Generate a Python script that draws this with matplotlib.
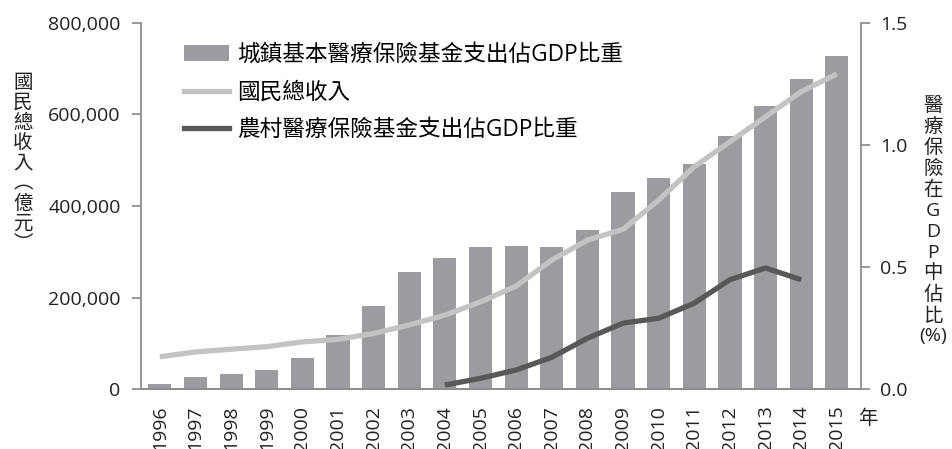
import numpy as np
import matplotlib
matplotlib.use("Agg")
import matplotlib.pyplot as plt
from matplotlib.ticker import FuncFormatter
from matplotlib.patches import Patch
from matplotlib.lines import Line2D

plt.rcParams['font.family'] = ['Open Sans', 'Noto Sans CJK TC', 'DejaVu Sans']

# 數據
years = [str(y) for y in range(1996, 2016)]
urban_share = [0.021, 0.051, 0.063, 0.078, 0.126, 0.222, 0.342, 0.481, 0.538, 0.583,
               0.586, 0.580, 0.651, 0.808, 0.864, 0.922, 1.036, 1.159, 1.270, 1.365]
gni = [70600, 81000, 87000, 92500, 103000, 108500, 121500, 140000, 161500, 190500,
       225000, 282000, 325500, 349000, 413000, 486000, 540500, 595000, 650000, 688500]
rural_years = years[8:19]
rural_share = [0.016, 0.044, 0.078, 0.130, 0.208, 0.270, 0.290, 0.352, 0.448, 0.496, 0.448]

label_bar = '城鎮基本醫療保險基金支出佔GDP比重'
label_gni = '國民總收入'
label_rural = '農村醫療保險基金支出佔GDP比重'

c_bar = '#9b9ca0'
c_gni = '#c3c3c5'
c_rural = '#58585b'
c_axis = '#8f8f93'
c_text = '#222222'
fs = 14

fig = plt.figure(figsize=(9.52, 4.49), dpi=100)
ax = fig.add_axes([0.1481, 0.1336, 0.7560, 0.8152])
ax2 = ax.twinx()

x = np.arange(len(years))
xr = np.arange(8, 8 + len(rural_years))

# 柱狀與農村線用右軸
ax2.bar(x, urban_share, width=0.65, color=c_bar)
ax2.plot(xr, rural_share, color=c_rural, lw=3.8, solid_capstyle='butt')
# 國民總收入用左軸，畫在上層
ax.plot(x, gni, color=c_gni, lw=3.8, solid_capstyle='butt')
ax.set_zorder(ax2.get_zorder() + 1)
ax.patch.set_visible(False)

ax.set_xlim(-0.53, 19.67)
ax.set_ylim(0, 800000)
ax2.set_ylim(0, 1.5)
ax.set_yticks([0, 200000, 400000, 600000, 800000])
ax2.set_yticks([0, 0.5, 1.0, 1.5])
ax.yaxis.set_major_formatter(FuncFormatter(lambda v, p: f'{int(v):,}'))
ax2.yaxis.set_major_formatter(FuncFormatter(lambda v, p: f'{v:.1f}'))
ax.set_xticks(x)
ax.set_xticklabels(years, rotation=90)

for a in (ax, ax2):
    a.spines['top'].set_visible(False)
    for s in ('left', 'right', 'bottom'):
        a.spines[s].set_color(c_axis)
        a.spines[s].set_linewidth(1.3)
ax.spines['right'].set_visible(False)
ax2.spines['left'].set_visible(False)

ax.tick_params(axis='x', length=0, pad=12, labelsize=fs, colors=c_text)
ax.tick_params(axis='y', length=6.7, width=1.3, color=c_axis, pad=8, labelsize=fs,
               labelcolor=c_text)
ax2.tick_params(axis='y', length=6.7, width=1.3, color=c_axis, pad=7, labelsize=fs,
                labelcolor=c_text)

# 軸標題（直排）
fig.text(0.024, 0.636, '\n'.join('國民總收入︵億元︶'), ha='center', va='center',
         fontsize=14, color=c_text, linespacing=1.15)
fig.text(0.980, 0.507, '\n'.join('醫療保險在GDP中佔比') + '\n(%)', ha='center',
         va='center', fontsize=14, color=c_text, linespacing=1.2)
fig.text(868 / 952, 1 - 419 / 449, '年', ha='center', va='center', fontsize=fs,
         color=c_text)

handles = [Patch(facecolor=c_bar, edgecolor='none'),
           Line2D([], [], color=c_gni, lw=3.8),
           Line2D([], [], color=c_rural, lw=3.8)]
ax.legend(handles, [label_bar, label_gni, label_rural], loc='upper left',
          bbox_to_anchor=(0.06, 0.945), frameon=False, fontsize=16.3,
          handlelength=2.0, handletextpad=0.35, labelspacing=0.6,
          borderaxespad=0, borderpad=0)

fig.savefig('out.png', dpi=100)
